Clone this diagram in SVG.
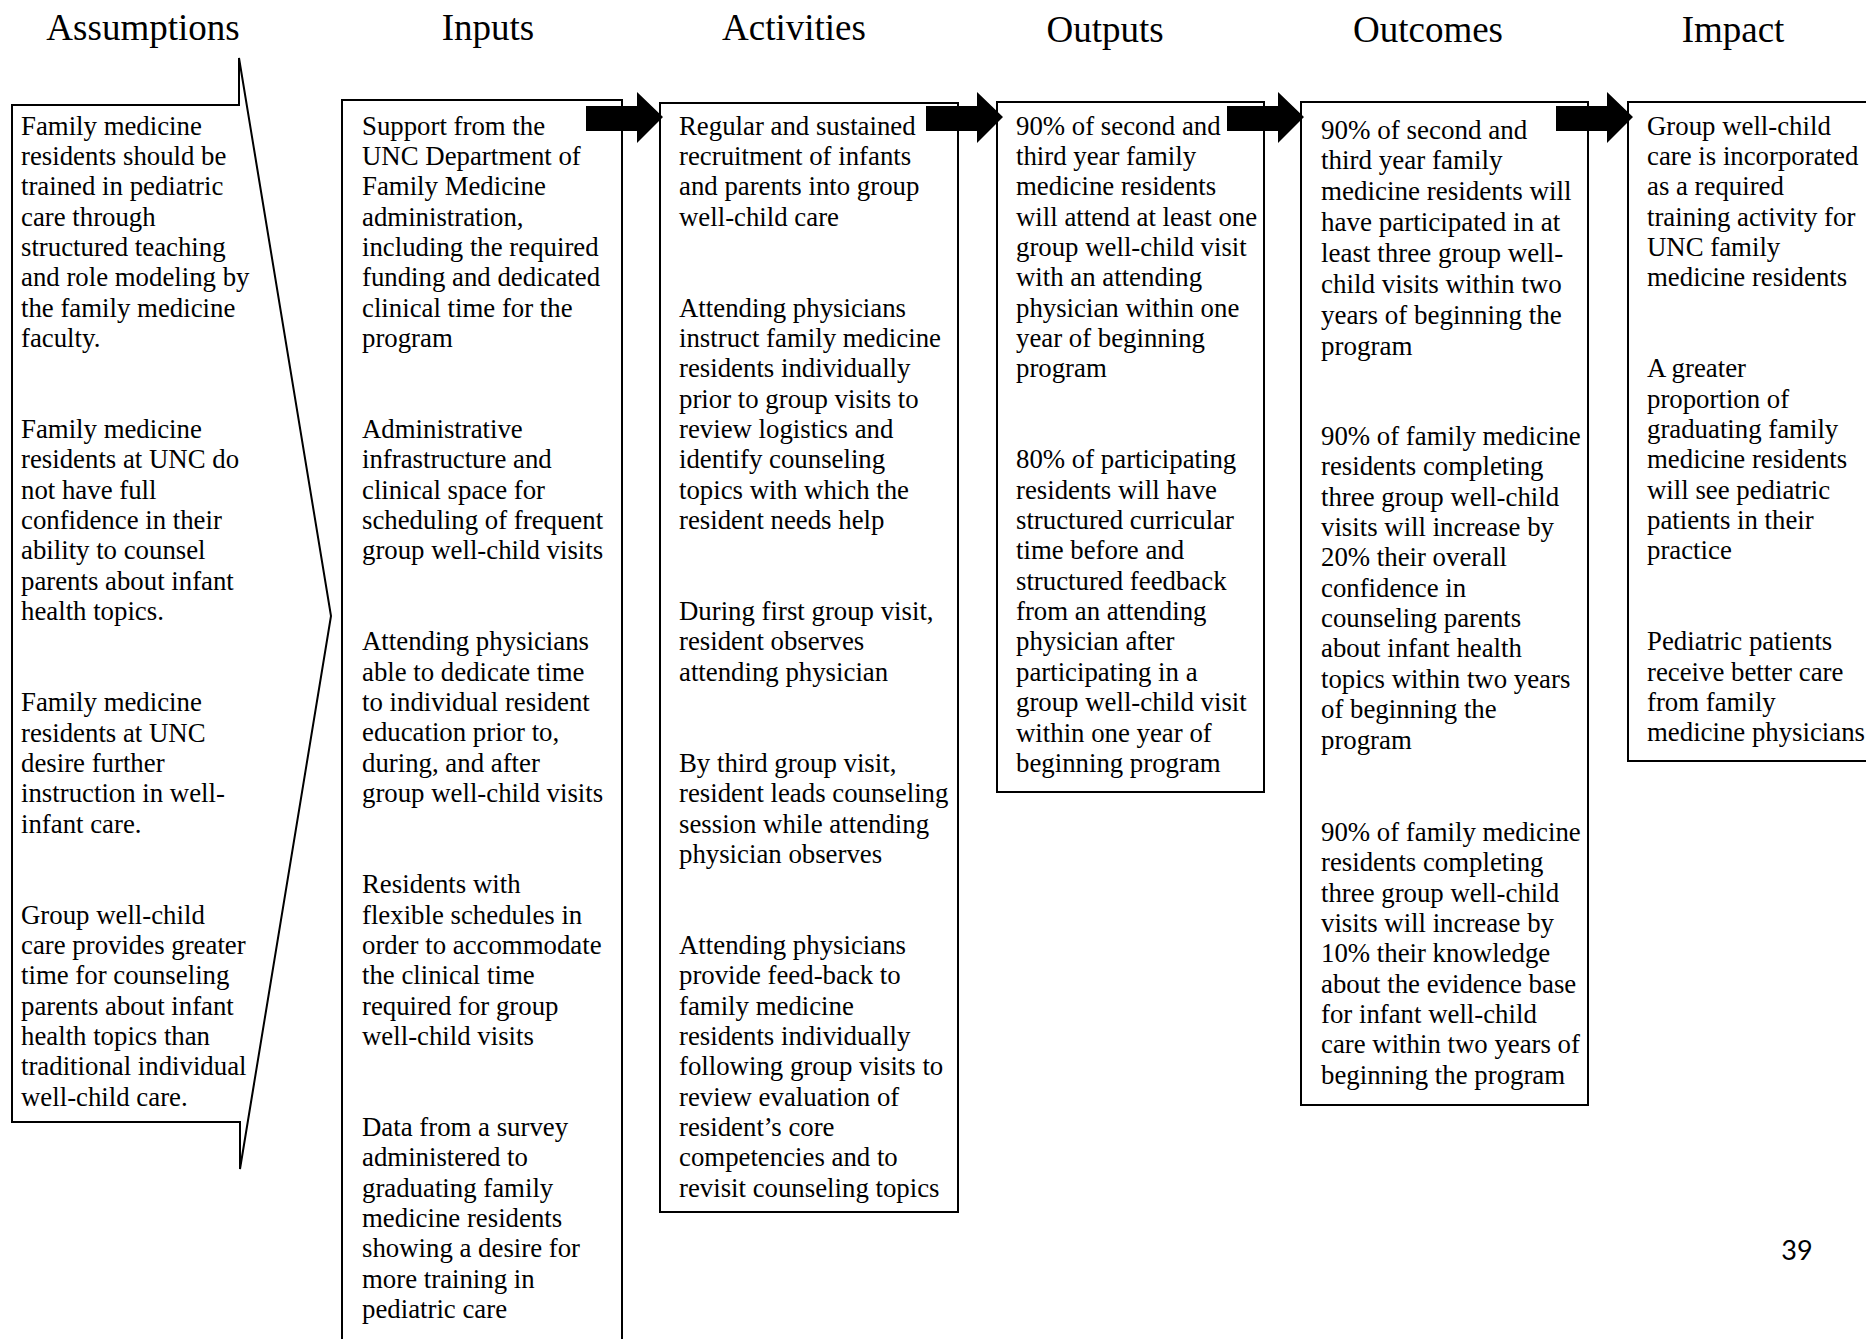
<svg xmlns="http://www.w3.org/2000/svg" xmlns:xlink="http://www.w3.org/1999/xlink" width="1866" height="1339" viewBox="0 0 1866 1339">
<style>
.bg{fill:#fff}
.box{fill:#fff;stroke:#000;stroke-width:2}
.title{font-family:"Liberation Serif","Times New Roman",serif;font-size:37px;fill:#000;text-anchor:middle}
.t{font-family:"Liberation Serif","Times New Roman",serif;font-size:26.8px;fill:#000}
.t2{font-family:"Liberation Serif","Times New Roman",serif;font-size:27px;fill:#000}
.pg{font-family:Lato,"Open Sans",sans-serif;font-size:27px;fill:#000;text-anchor:middle}
.arrow{fill:#000}
</style>
<defs>
<path id="blockArrow" d="M-77,-11 L-26,-11 L-26,-25 L0,0 L-26,26 L-26,14 L-77,14 Z"/>
</defs>
<rect class="bg" x="0" y="0" width="1866" height="1339"/>

<g id="titles">
<text class="title" x="143" y="40">Assumptions</text>
<text class="title" x="488" y="40">Inputs</text>
<text class="title" x="794" y="40">Activities</text>
<text class="title" x="1105" y="42">Outputs</text>
<text class="title" x="1428" y="42">Outcomes</text>
<text class="title" x="1733" y="42">Impact</text>
</g>

<g id="assumptions">
<path class="box" d="M12,105 L239,105 L239,58 L331,616 L240,1169 L240,1122 L12,1122 Z"/>
<text class="t" x="21" y="134.5">
<tspan x="21">Family medicine</tspan>
<tspan x="21" dy="30.35">residents should be</tspan>
<tspan x="21" dy="30.35">trained in pediatric</tspan>
<tspan x="21" dy="30.35">care through</tspan>
<tspan x="21" dy="30.35">structured teaching</tspan>
<tspan x="21" dy="30.35">and role modeling by</tspan>
<tspan x="21" dy="30.35">the family medicine</tspan>
<tspan x="21" dy="30.35">faculty.</tspan>
<tspan x="21" dy="91.05">Family medicine</tspan>
<tspan x="21" dy="30.35">residents at UNC do</tspan>
<tspan x="21" dy="30.35">not have full</tspan>
<tspan x="21" dy="30.35">confidence in their</tspan>
<tspan x="21" dy="30.35">ability to counsel</tspan>
<tspan x="21" dy="30.35">parents about infant</tspan>
<tspan x="21" dy="30.35">health topics.</tspan>
<tspan x="21" dy="91.05">Family medicine</tspan>
<tspan x="21" dy="30.35">residents at UNC</tspan>
<tspan x="21" dy="30.35">desire further</tspan>
<tspan x="21" dy="30.35">instruction in well-</tspan>
<tspan x="21" dy="30.35">infant care.</tspan>
<tspan x="21" dy="91.05">Group well-child</tspan>
<tspan x="21" dy="30.35">care provides greater</tspan>
<tspan x="21" dy="30.35">time for counseling</tspan>
<tspan x="21" dy="30.35">parents about infant</tspan>
<tspan x="21" dy="30.35">health topics than</tspan>
<tspan x="21" dy="30.35">traditional individual</tspan>
<tspan x="21" dy="30.35">well-child care.</tspan>
</text>
</g>

<g id="inputs">
<rect class="box" x="342" y="100" width="280" height="1300"/>
<text class="t" x="362" y="134.5">
<tspan x="362">Support from the</tspan>
<tspan x="362" dy="30.35">UNC Department of</tspan>
<tspan x="362" dy="30.35">Family Medicine</tspan>
<tspan x="362" dy="30.35">administration,</tspan>
<tspan x="362" dy="30.35">including the required</tspan>
<tspan x="362" dy="30.35">funding and dedicated</tspan>
<tspan x="362" dy="30.35">clinical time for the</tspan>
<tspan x="362" dy="30.35">program</tspan>
<tspan x="362" dy="91.05">Administrative</tspan>
<tspan x="362" dy="30.35">infrastructure and</tspan>
<tspan x="362" dy="30.35">clinical space for</tspan>
<tspan x="362" dy="30.35">scheduling of frequent</tspan>
<tspan x="362" dy="30.35">group well-child visits</tspan>
<tspan x="362" dy="91.05">Attending physicians</tspan>
<tspan x="362" dy="30.35">able to dedicate time</tspan>
<tspan x="362" dy="30.35">to individual resident</tspan>
<tspan x="362" dy="30.35">education prior to,</tspan>
<tspan x="362" dy="30.35">during, and after</tspan>
<tspan x="362" dy="30.35">group well-child visits</tspan>
<tspan x="362" dy="91.05">Residents with</tspan>
<tspan x="362" dy="30.35">flexible schedules in</tspan>
<tspan x="362" dy="30.35">order to accommodate</tspan>
<tspan x="362" dy="30.35">the clinical time</tspan>
<tspan x="362" dy="30.35">required for group</tspan>
<tspan x="362" dy="30.35">well-child visits</tspan>
<tspan x="362" dy="91.05">Data from a survey</tspan>
<tspan x="362" dy="30.35">administered to</tspan>
<tspan x="362" dy="30.35">graduating family</tspan>
<tspan x="362" dy="30.35">medicine residents</tspan>
<tspan x="362" dy="30.35">showing a desire for</tspan>
<tspan x="362" dy="30.35">more training in</tspan>
<tspan x="362" dy="30.35">pediatric care</tspan>
</text>
</g>

<g id="activities">
<rect class="box" x="660" y="103" width="298" height="1109"/>
<text class="t" x="679" y="134.5">
<tspan x="679">Regular and sustained</tspan>
<tspan x="679" dy="30.35">recruitment of infants</tspan>
<tspan x="679" dy="30.35">and parents into group</tspan>
<tspan x="679" dy="30.35">well-child care</tspan>
<tspan x="679" dy="91.05">Attending physicians</tspan>
<tspan x="679" dy="30.35">instruct family medicine</tspan>
<tspan x="679" dy="30.35">residents individually</tspan>
<tspan x="679" dy="30.35">prior to group visits to</tspan>
<tspan x="679" dy="30.35">review logistics and</tspan>
<tspan x="679" dy="30.35">identify counseling</tspan>
<tspan x="679" dy="30.35">topics with which the</tspan>
<tspan x="679" dy="30.35">resident needs help</tspan>
<tspan x="679" dy="91.05">During first group visit,</tspan>
<tspan x="679" dy="30.35">resident observes</tspan>
<tspan x="679" dy="30.35">attending physician</tspan>
<tspan x="679" dy="91.05">By third group visit,</tspan>
<tspan x="679" dy="30.35">resident leads counseling</tspan>
<tspan x="679" dy="30.35">session while attending</tspan>
<tspan x="679" dy="30.35">physician observes</tspan>
<tspan x="679" dy="91.05">Attending physicians</tspan>
<tspan x="679" dy="30.35">provide feed-back to</tspan>
<tspan x="679" dy="30.35">family medicine</tspan>
<tspan x="679" dy="30.35">residents individually</tspan>
<tspan x="679" dy="30.35">following group visits to</tspan>
<tspan x="679" dy="30.35">review evaluation of</tspan>
<tspan x="679" dy="30.35">resident’s core</tspan>
<tspan x="679" dy="30.35">competencies and to</tspan>
<tspan x="679" dy="30.35">revisit counseling topics</tspan>
</text>
</g>

<g id="outputs">
<rect class="box" x="997" y="102" width="267" height="690"/>
<text class="t" x="1016" y="134.5">
<tspan x="1016">90% of second and</tspan>
<tspan x="1016" dy="30.35">third year family</tspan>
<tspan x="1016" dy="30.35">medicine residents</tspan>
<tspan x="1016" dy="30.35">will attend at least one</tspan>
<tspan x="1016" dy="30.35">group well-child visit</tspan>
<tspan x="1016" dy="30.35">with an attending</tspan>
<tspan x="1016" dy="30.35">physician within one</tspan>
<tspan x="1016" dy="30.35">year of beginning</tspan>
<tspan x="1016" dy="30.35">program</tspan>
<tspan x="1016" dy="91.05">80% of participating</tspan>
<tspan x="1016" dy="30.35">residents will have</tspan>
<tspan x="1016" dy="30.35">structured curricular</tspan>
<tspan x="1016" dy="30.35">time before and</tspan>
<tspan x="1016" dy="30.35">structured feedback</tspan>
<tspan x="1016" dy="30.35">from an attending</tspan>
<tspan x="1016" dy="30.35">physician after</tspan>
<tspan x="1016" dy="30.35">participating in a</tspan>
<tspan x="1016" dy="30.35">group well-child visit</tspan>
<tspan x="1016" dy="30.35">within one year of</tspan>
<tspan x="1016" dy="30.35">beginning program</tspan>
</text>
</g>

<g id="outcomes">
<rect class="box" x="1301" y="102" width="287" height="1003"/>
<text class="t2" x="1321" y="138.5">
<tspan x="1321">90% of second and</tspan>
<tspan x="1321" dy="30.9">third year family</tspan>
<tspan x="1321" dy="30.9">medicine residents will</tspan>
<tspan x="1321" dy="30.9">have participated in at</tspan>
<tspan x="1321" dy="30.9">least three group well-</tspan>
<tspan x="1321" dy="30.9">child visits within two</tspan>
<tspan x="1321" dy="30.9">years of beginning the</tspan>
<tspan x="1321" dy="30.9">program</tspan>
</text>
<text class="t" x="1321" y="445">
<tspan x="1321">90% of family medicine</tspan>
<tspan x="1321" dy="30.35">residents completing</tspan>
<tspan x="1321" dy="30.35">three group well-child</tspan>
<tspan x="1321" dy="30.35">visits will increase by</tspan>
<tspan x="1321" dy="30.35">20% their overall</tspan>
<tspan x="1321" dy="30.35">confidence in</tspan>
<tspan x="1321" dy="30.35">counseling parents</tspan>
<tspan x="1321" dy="30.35">about infant health</tspan>
<tspan x="1321" dy="30.35">topics within two years</tspan>
<tspan x="1321" dy="30.35">of beginning the</tspan>
<tspan x="1321" dy="30.35">program</tspan>
<tspan x="1321" dy="92.5">90% of family medicine</tspan>
<tspan x="1321" dy="30.35">residents completing</tspan>
<tspan x="1321" dy="30.35">three group well-child</tspan>
<tspan x="1321" dy="30.35">visits will increase by</tspan>
<tspan x="1321" dy="30.35">10% their knowledge</tspan>
<tspan x="1321" dy="30.35">about the evidence base</tspan>
<tspan x="1321" dy="30.35">for infant well-child</tspan>
<tspan x="1321" dy="30.35">care within two years of</tspan>
<tspan x="1321" dy="30.35">beginning the program</tspan>
</text>
</g>

<g id="impact">
<rect class="box" x="1628" y="102" width="300" height="659"/>
<text class="t" x="1647" y="134.5">
<tspan x="1647">Group well-child</tspan>
<tspan x="1647" dy="30.35">care is incorporated</tspan>
<tspan x="1647" dy="30.35">as a required</tspan>
<tspan x="1647" dy="30.35">training activity for</tspan>
<tspan x="1647" dy="30.35">UNC family</tspan>
<tspan x="1647" dy="30.35">medicine residents</tspan>
<tspan x="1647" dy="91.05">A greater</tspan>
<tspan x="1647" dy="30.35">proportion of</tspan>
<tspan x="1647" dy="30.35">graduating family</tspan>
<tspan x="1647" dy="30.35">medicine residents</tspan>
<tspan x="1647" dy="30.35">will see pediatric</tspan>
<tspan x="1647" dy="30.35">patients in their</tspan>
<tspan x="1647" dy="30.35">practice</tspan>
<tspan x="1647" dy="91.05">Pediatric patients</tspan>
<tspan x="1647" dy="30.35">receive better care</tspan>
<tspan x="1647" dy="30.35">from family</tspan>
<tspan x="1647" dy="30.35">medicine physicians</tspan>
</text>
</g>

<g id="connectors">
<use xlink:href="#blockArrow" class="arrow" transform="translate(663,117)"/>
<use xlink:href="#blockArrow" class="arrow" transform="translate(1003,117)"/>
<use xlink:href="#blockArrow" class="arrow" transform="translate(1304,117)"/>
<use xlink:href="#blockArrow" class="arrow" transform="translate(1633,117)"/>
</g>

<text class="pg" x="1797" y="1260">39</text>
</svg>
